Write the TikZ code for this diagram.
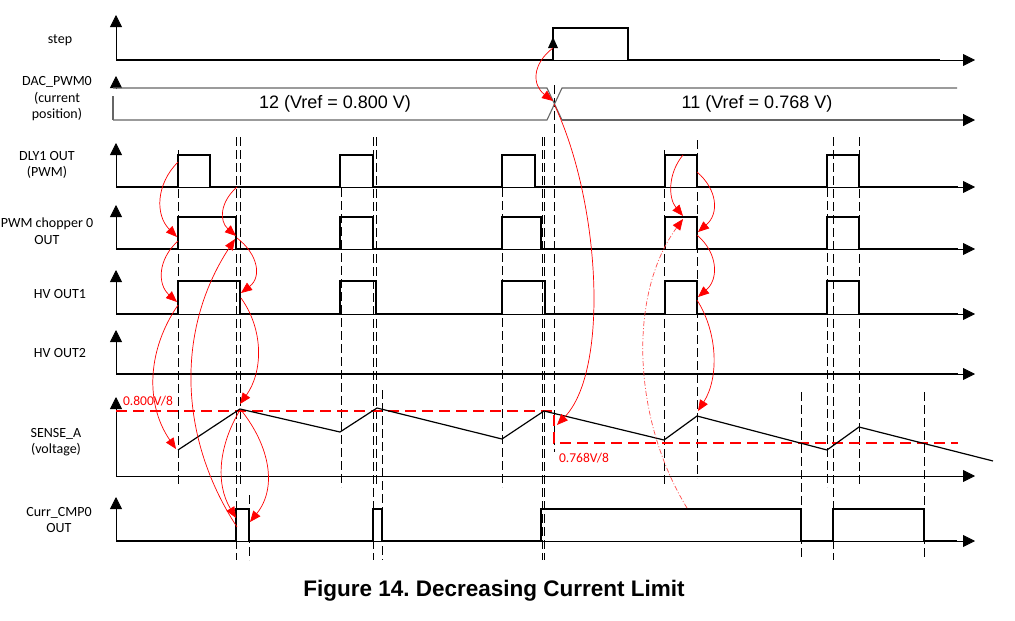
\documentclass[tikz,border=0pt]{standalone}
\usepackage{fontspec}
\setmainfont{Carlito}
\newfontfamily\arialf{Liberation Sans}
\usetikzlibrary{arrows.meta}
\frenchspacing
\begin{document}
\begin{tikzpicture}[x=1pt,y=-1pt,
  wave/.style={line width=1.8pt, line join=miter},
  axarr/.style={line width=0.8pt, -{Triangle[length=12pt,width=12pt]}},
  busline/.style={draw=black!60, line width=1.1pt},
  vdash/.style={line width=0.8pt, dash pattern=on 9pt off 4pt},
  rarr/.style={draw=red, line width=0.7pt, -{Triangle[length=11pt,width=9pt,color=red]}},
  rdarr/.style={draw=red!70, line width=0.7pt, dash pattern=on 5pt off 2pt on 1pt off 2pt, -{Triangle[length=11pt,width=9pt,color=red]}},
  rdash/.style={draw=red, line width=2pt, dash pattern=on 11pt off 6pt},
  sense/.style={line width=1.2pt, line join=miter},
  lab/.style={font=\fontsize{14}{16.5}\selectfont, align=center, inner sep=0pt},
  redlab/.style={font=\fontsize{13.5}{16}\selectfont, text=red, inner sep=0pt},
  bustext/.style={font=\arialf\fontsize{18}{20}\selectfont, inner sep=0pt}]
\useasboundingbox (0,0) rectangle (1015,621);

% ---------- labels ----------
\node[lab] (lstep) at (60,40) {step};
\node[lab] (ldac) at (57,99) {DAC\_PWM0\\(current\\position)};
\node[lab] (ldly) at (47,165) {DLY1 OUT\\(PWM)};
\node[lab] (lch) at (47,231) {PWM chopper 0\\OUT};
\node[lab] (lhv1) at (60,294) {HV OUT1};
\node[lab] (lhv2) at (60,353) {HV OUT2};
\node[lab] (lsense) at (56,442) {SENSE\_A\\(voltage)};
\node[lab] (lcmp) at (59,520) {Curr\_CMP0\\OUT};
\node[font=\arialf\bfseries\fontsize{22.5}{26}\selectfont, inner sep=0pt] (title) at (494,591) {Figure 14. Decreasing Current Limit};

% ---------- dashed verticals ----------
\foreach \x/\a/\b in {178/150/487, 236/137/560, 240/137/485, 249/495/560,
  341/188/487, 373/137/560, 376/137/487, 382/390/560,
  502/188/487, 542/137/560, 544/137/560, 554/85/452,
  664/150/487, 697/140/478, 801/392/560, 827/188/487,
  833/137/560, 859/137/485, 924/392/560}
  \draw[vdash] (\x,\a) -- (\x,\b);

% ---------- step ----------
\draw[axarr] (116,60) -- (116,15);
\draw[axarr] (116,60) -- (975,60);
\draw[wave] (116,60) -- (553,60) -- (553,28) -- (628,28) -- (628,60) -- (940,60);
\fill (548,48) -- (553,37) -- (558,48) -- cycle;

% ---------- DAC_PWM0 bus ----------
\draw[axarr] (116,89) -- (116,76);
\draw[busline] (113,96) -- (113,120);
\draw[busline] (113,88) -- (547,88) -- (562,120);
\draw[busline] (113,120) -- (547,120) -- (562,88) -- (957,88);
\draw[busline, -{Triangle[length=12pt,width=12pt,color=black]}] (562,120) -- (975,120);
\node[bustext] (t12) at (335,104) {12 (Vref = 0.800 V)};
\node[bustext] (t11) at (757,104) {11 (Vref = 0.768 V)};

% ---------- DLY1 OUT ----------
\draw[axarr] (116,187) -- (116,143);
\draw[axarr] (116,187) -- (975,187);
\draw[wave] (116,187) -| (178,155) -| (210,187) -| (340,155) -| (373,187) -| (502,155) -| (535,187)
  -| (665,155) -| (697,187) -| (827,155) -| (859,187) -- (958,187);

% ---------- PWM chopper ----------
\draw[axarr] (116,249) -- (116,205);
\draw[axarr] (116,249) -- (975,249);
\draw[wave] (116,249) -| (178,217) -| (236,249) -| (340,217) -| (373,249) -| (502,217) -| (541,249)
  -| (665,217) -| (697,249) -| (827,217) -| (859,249) -- (958,249);

% ---------- HV OUT1 ----------
\draw[axarr] (116,314) -- (116,270);
\draw[axarr] (116,314) -- (975,314);
\draw[wave] (116,314) -| (178,281) -| (240,314) -| (340,281) -| (376,314) -| (502,281) -| (545,314)
  -| (665,281) -| (697,314) -| (827,281) -| (859,314) -- (958,314);

% ---------- HV OUT2 ----------
\draw[axarr] (116,374) -- (116,330);
\draw[axarr] (116,374) -- (975,374);
\draw[wave] (116,374) -- (958,374);

% ---------- SENSE_A ----------
\draw[axarr] (116,476) -- (116,397);
\draw[axarr] (116,476) -- (975,476);
\draw[rdash] (116,411) -- (554,411) -- (554,443) -- (958,443);
\draw[sense] (178,450) -- (240,409) -- (340,432) -- (377,408) -- (502,439) -- (544,411)
  -- (664,440) -- (697,416) -- (827,450) -- (859,427) -- (993,461);
\node[redlab] (l800) at (148,401) {0.800V/8};
\node[redlab] (l768) at (584,458) {0.768V/8};

% ---------- Curr_CMP0 ----------
\draw[axarr] (116,541) -- (116,497);
\draw[axarr] (116,541) -- (975,541);
\draw[wave] (116,541) -| (236,509) -| (249,541) -| (373,509) -| (382,541) -| (541,509) -| (801,541)
  -| (833,509) -| (924,541) -- (957,541);

% ---------- red cause arrows ----------
\coordinate (d1r) at (178,162);  \coordinate (c1r) at (177,237);
\coordinate (c1rs) at (178,241); \coordinate (h1r) at (177,302);
\coordinate (h1rs) at (178,305); \coordinate (s1v) at (176,449);
\coordinate (d1f) at (237,187);  \coordinate (c1f) at (236,236);
\coordinate (c1fs) at (237,238); \coordinate (h1f) at (241,293);
\coordinate (h1fs) at (241,298); \coordinate (s1p) at (240,404);
\coordinate (s1ps) at (241,410); \coordinate (m1f) at (250,522);
\coordinate (s1pl) at (240,410); \coordinate (m1r) at (236,518);
\coordinate (m1b) at (237,527);  \coordinate (c1f2) at (235,239);
\coordinate (stp) at (553,48);   \coordinate (xx) at (553,101);
\coordinate (xxs) at (554,104);  \coordinate (s3) at (557,425);
\coordinate (d4t) at (683,155);  \coordinate (c4t) at (683,216);
\coordinate (d4f) at (697,172);  \coordinate (c4f) at (698,232);
\coordinate (c4fs) at (697,235); \coordinate (h4f) at (698,297);
\coordinate (h4fs) at (697,300); \coordinate (s4p) at (698,411);
\coordinate (m4) at (687,508);   \coordinate (c4t2) at (683,219);

\draw[rarr] (d1r) .. controls +(-22,22) and +(-22,-22) .. (c1r);
\draw[rarr] (c1rs) .. controls +(-20,18) and +(-20,-18) .. (h1r);
\draw[rarr] (h1rs) .. controls +(-31,45) and +(-31,-45) .. (s1v);
\draw[rarr] (d1f) .. controls +(-17,15) and +(-17,-15) .. (c1f);
\draw[rarr] (c1fs) .. controls +(21,16) and +(21,-16) .. (h1f);
\draw[rarr] (h1fs) .. controls +(23,32) and +(23,-32) .. (s1p);
\draw[rarr] (s1ps) .. controls +(28,35) and +(28,-35) .. (m1f);
\draw[rarr] (s1pl) .. controls +(-21,35) and +(-21,-35) .. (m1r);
\draw[rarr] (m1b) .. controls +(-59,-90) and +(-59,90) .. (c1f2);
\draw[rarr] (stp) .. controls +(-21,16) and +(-21,-16) .. (xx);
\draw[rarr] (xxs) .. controls +(46,96) and +(53,-55) .. (s3);
\draw[rarr] (d4t) .. controls +(-15,18) and +(-15,-18) .. (c4t);
\draw[rarr] (d4f) .. controls +(21,18) and +(21,-18) .. (c4f);
\draw[rarr] (c4fs) .. controls +(21,18) and +(21,-18) .. (h4f);
\draw[rarr] (h4fs) .. controls +(21,33) and +(21,-33) .. (s4p);
\draw[rdarr] (m4) .. controls +(-55,-90) and +(-55,75) .. (c4t2);
\end{tikzpicture}
\end{document}
